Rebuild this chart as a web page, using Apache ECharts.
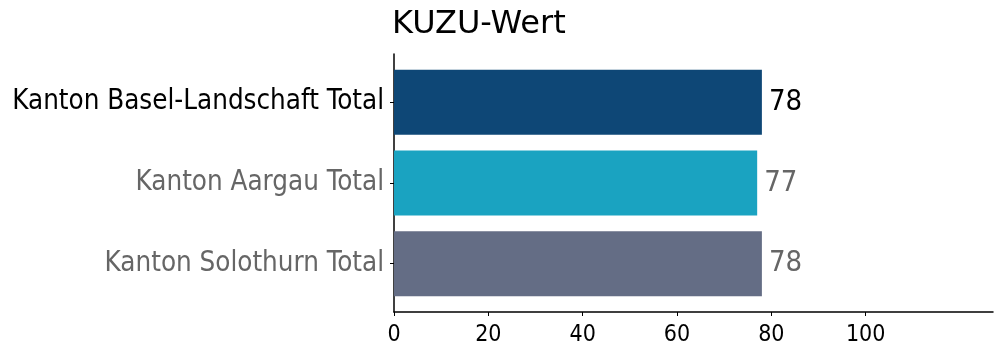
<!DOCTYPE html>
<html>
<head>
<meta charset="utf-8">
<script src="https://cdn.jsdelivr.net/npm/echarts@6/dist/echarts.min.js"></script>
<style>
  html, body { margin: 0; padding: 0; background: #fff; }
  #chart { width: 994px; height: 347px; }
</style>
</head>
<body>
<div id="chart"></div>
<script>
// Cantons and their KUZU values, top to bottom
const categories = ['Kanton Basel-Landschaft Total', 'Kanton Aargau Total', 'Kanton Solothurn Total'];
const values = [78, 77, 78];
const barColors = ['#0e4776', '#1aa3c1', '#646d85'];
const labelColors = ['#000000', '#666666', '#666666'];
const xTicks = [0, 20, 40, 60, 80, 100];
const xMax = 127;

const FONT = 'DejaVu Sans Condensed';
const TITLE_FONT = 'DejaVu Sans';

const chart = echarts.init(document.getElementById('chart'), null, { renderer: 'canvas' });

chart.setOption({
  animation: false,
  backgroundColor: '#ffffff',
  textStyle: { fontFamily: FONT },
  title: {
    text: 'KUZU-Wert',
    left: 387,
    top: 4,
    textStyle: { fontFamily: TITLE_FONT, fontSize: 32, fontWeight: 'normal', color: '#000' }
  },
  // grid 0 carries the axis frame (spines, x ticks); grid 1 holds the bars,
  // inset vertically so the bands sit with a margin inside the spines
  grid: [
    { left: 394, right: 1, top: 54, bottom: 35, containLabel: false },
    { left: 394, right: 1, top: 62, bottom: 43, containLabel: false }
  ],
  xAxis: [{
    gridIndex: 0,
    type: 'value',
    min: 0,
    max: xMax,
    splitLine: { show: false },
    axisLine: { show: true, onZero: false, lineStyle: { color: '#000', width: 1.5 } },
    axisTick: { show: true, customValues: xTicks, length: 4, lineStyle: { color: '#000' } },
    axisLabel: {
      customValues: xTicks,
      margin: 12,
      fontFamily: FONT,
      fontSize: 23,
      color: '#000'
    }
  }, {
    gridIndex: 1,
    type: 'value',
    min: 0,
    max: xMax,
    show: false
  }],
  yAxis: [{
    gridIndex: 0,
    type: 'value',
    min: 0,
    max: 1,
    splitLine: { show: false },
    axisLine: { show: true, onZero: false, lineStyle: { color: '#000', width: 1.5 } },
    axisTick: { show: false },
    axisLabel: { show: false }
  }, {
    gridIndex: 1,
    type: 'category',
    data: categories,
    inverse: true,
    splitLine: { show: false },
    axisLine: { show: false },
    axisTick: { show: true, alignWithLabel: true, length: 4, lineStyle: { color: '#000' } },
    axisLabel: {
      margin: 10,
      fontFamily: FONT,
      fontSize: 27.5,
      color: function (v) { return labelColors[categories.indexOf(v)] || '#666'; }
    }
  }],
  series: [{
    type: 'bar',
    xAxisIndex: 1,
    yAxisIndex: 1,
    barWidth: 65,
    data: values.map(function (v, i) {
      return {
        value: v,
        itemStyle: { color: barColors[i] },
        label: { color: labelColors[i] }
      };
    }),
    label: {
      show: true,
      position: 'right',
      distance: 7,
      fontFamily: FONT,
      fontSize: 29
    }
  }]
});
</script>
</body>
</html>
